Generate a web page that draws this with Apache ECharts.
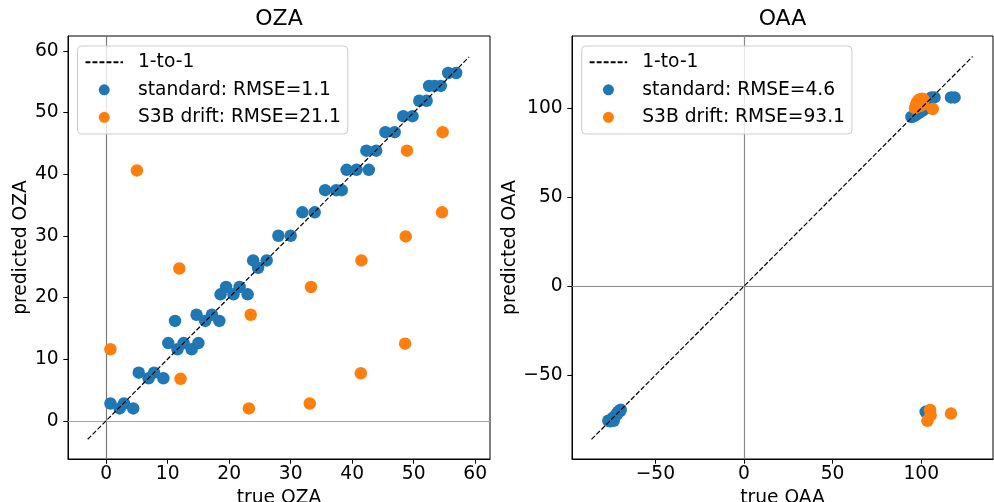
<!DOCTYPE html>
<html><head><meta charset="utf-8">
<script src="https://cdn.jsdelivr.net/npm/echarts@6/dist/echarts.min.js"></script>
<style>html,body{margin:0;padding:0;background:#fff}#c{width:994px;height:502px}</style>
</head><body><div id="c"></div>
<script>
// ---- data ----
const ozaTicks = [0, 10, 20, 30, 40, 50, 60];
const oaaTicks = [-50, 0, 50, 100];
const ozaRange = [-6.2, 62.4];
const oaaRange = [-97, 140.5];
const ozaOneToOne = [-3, 59];
const oaaOneToOne = [-86, 129];

const ozaStdTrue = [0.7,2.2,2.9,4.4, 5.3,6.9,7.8,9.3, 10.1,11.6,12.6,13.9,15.0, 11.2, 14.7,16.1,17.2,18.4, 18.6,19.5,20.7,21.7,23.0, 23.9,24.7,26.1, 28.0,30.0, 31.9,33.9, 35.6,37.4,38.3, 39.1,40.7,42.7, 42.3,43.9, 45.4,46.9, 48.3,49.8, 50.9,52.1, 52.5,53.4,54.4, 55.6,56.9];
const ozaStdPred = [2.8,2.0,2.8,2.0, 7.8,6.9,7.8,6.9, 12.6,11.6,12.6,11.6,12.6, 16.2, 17.2,16.2,17.2,16.2, 20.5,21.7,20.5,21.7,20.5, 26.0,24.8,26.0, 30.0,30.0, 33.8,33.8, 37.4,37.4,37.4, 40.7,40.7,40.7, 43.8,43.8, 46.8,46.8, 49.4,49.4, 51.9,51.9, 54.3,54.3,54.3, 56.4,56.4];
const ozaDriftTrue = [0.7, 5.0, 11.9, 12.1, 23.5, 23.2, 33.3, 33.1, 41.5, 41.4, 48.6, 48.7, 54.6, 48.9, 54.7];
const ozaDriftPred = [11.6, 40.6, 24.7, 6.8, 17.2, 2.0, 21.7, 2.8, 26.0, 7.7, 12.5, 29.9, 33.8, 43.8, 46.8];

const oaaStdTrue = [-76.5,-75.5,-74.5,-74,-73.5,-73,-72.5,-71.5,-71,-70,-69.5, 94.5,96,97.5,99,100.5,102,101,103,104, 105.8,107.5, 116.8,118.8, 102.5];
const oaaStdPred = [-75.5,-75.8,-75.2,-74,-75.5,-73.5,-72.5,-71.8,-70.5,-70.2,-69.3, 95,95.5,96.5,97.5,98.5,99.5,101,103,104, 106,106, 106,106, -70.5];
const oaaDriftTrue = [96.5,97,97.5,98.5,99.5,100.5,101.5,98,99,100,101,106.5, 105,105.3,103.5,116.8];
const oaaDriftPred = [100,101.5,103,104.5,105,105.2,104.8,102,101,103,102,99.5, -69.5,-72.5,-75.5,-71.5];

const names = {
  oza: ['1-to-1', 'standard: RMSE=1.1', 'S3B drift: RMSE=21.1'],
  oaa: ['1-to-1', 'standard: RMSE=4.6', 'S3B drift: RMSE=93.1']
};

// ---- chart ----
const F = 'DejaVu Sans';
const FS = 18.67;
const BLUE = '#1f77b4', ORANGE = '#ff7f0e';
const zip = (a, b) => a.map((v, i) => [v, b[i]]);
const fmt = v => String(v).replace('-', '\u2212');

function xAxis(gi, range, ticks, name) {
  return {
    type: 'value', gridIndex: gi, min: range[0], max: range[1],
    name: name, nameLocation: 'middle', nameGap: 17.5,
    nameTextStyle: {fontSize: FS, color: '#000', fontFamily: F},
    axisLine: {show: true, onZero: false, lineStyle: {color: '#000', width: 1}},
    axisTick: {show: true, customValues: ticks, length: 4.7, lineStyle: {color: '#000', width: 1}},
    axisLabel: {customValues: ticks, fontSize: FS, color: '#000', fontFamily: F, margin: 6, formatter: fmt},
    splitLine: {show: false}
  };
}
function yAxis(gi, range, ticks, name, gap) {
  return {
    type: 'value', gridIndex: gi, min: range[0], max: range[1],
    name: name, nameLocation: 'middle', nameGap: gap, nameRotate: 90,
    nameTextStyle: {fontSize: FS, color: '#000', fontFamily: F},
    axisLine: {show: true, onZero: false, lineStyle: {color: '#000', width: 1}},
    axisTick: {show: true, customValues: ticks, length: 4.7, lineStyle: {color: '#000', width: 1}},
    axisLabel: {customValues: ticks, fontSize: FS, color: '#000', fontFamily: F, margin: 9.3, formatter: fmt},
    splitLine: {show: false}
  };
}
function legend(left, data) {
  return {
    orient: 'vertical', left: left, top: 46,
    padding: [6.3, 7, 6.7, 7], itemGap: 7.5, itemWidth: 37.5, itemHeight: 11,
    backgroundColor: 'rgba(255,255,255,0.8)', borderColor: '#cccccc', borderWidth: 1, borderRadius: 4,
    textStyle: {fontSize: FS, color: '#000', fontFamily: F, lineHeight: 20, padding: [0, 0, 0, 10]},
    selectedMode: false,
    data: [
      {name: data[0], itemStyle: {color: 'rgba(0,0,0,0)', opacity: 0, borderWidth: 0}},
      data[1], data[2]
    ]
  };
}
function series(gi, oneToOne, stdT, stdP, drT, drP, nm, vColor, hColor) {
  return [
    {
      type: 'scatter', name: nm[1], xAxisIndex: gi, yAxisIndex: gi, z: 2,
      symbol: 'circle', symbolSize: 12.5, itemStyle: {color: BLUE, opacity: 1},
      data: zip(stdT, stdP),
      markLine: {
        silent: true, symbol: 'none', z: 1, animation: false,
        label: {show: false},
        data: [
          {xAxis: 0, lineStyle: {color: vColor, width: 1.2, type: 'solid'}},
          {yAxis: 0, lineStyle: {color: hColor, width: 1.2, type: 'solid'}}
        ]
      }
    },
    {
      type: 'scatter', name: nm[2], xAxisIndex: gi, yAxisIndex: gi, z: 2,
      symbol: 'circle', symbolSize: 12.5, itemStyle: {color: ORANGE, opacity: 1},
      data: zip(drT, drP)
    },
    {
      type: 'line', name: nm[0], xAxisIndex: gi, yAxisIndex: gi, z: 3,
      symbol: 'none', showSymbol: false,
      lineStyle: {color: '#000', width: 1.2, type: [4.9, 2.1]},
      itemStyle: {color: '#000'},
      data: zip(oneToOne, oneToOne)
    }
  ];
}

const chart = echarts.init(document.getElementById('c'), null, {renderer: 'canvas'});
chart.setOption({
  animation: false,
  backgroundColor: '#fff',
  textStyle: {fontFamily: F},
  grid: [
    {left: 68, top: 36, width: 422, height: 423, show: true, borderColor: '#000', borderWidth: 1, backgroundColor: 'transparent', containLabel: false, outerBoundsMode: 'none'},
    {left: 572, top: 36, width: 421, height: 423, show: true, borderColor: '#000', borderWidth: 1, backgroundColor: 'transparent', containLabel: false, outerBoundsMode: 'none'}
  ],
  xAxis: [xAxis(0, ozaRange, ozaTicks, 'true OZA'), xAxis(1, oaaRange, oaaTicks, 'true OAA')],
  yAxis: [yAxis(0, ozaRange, ozaTicks, 'predicted OZA', 34), yAxis(1, oaaRange, oaaTicks, 'predicted OAA', 49)],
  legend: [legend(77.5, names.oza), legend(581.7, names.oaa)],
  graphic: [
    {type: 'text', x: 279, y: 19, style: {text: 'OZA', fontSize: 22, fontFamily: F, fill: '#000', align: 'center', verticalAlign: 'middle'}},
    {type: 'text', x: 782.5, y: 19, style: {text: 'OAA', fontSize: 22, fontFamily: F, fill: '#000', align: 'center', verticalAlign: 'middle'}}
  ],
  series: [
    ...series(0, ozaOneToOne, ozaStdTrue, ozaStdPred, ozaDriftTrue, ozaDriftPred, names.oza, '#7a7a7a', '#a3a3a3'),
    ...series(1, oaaOneToOne, oaaStdTrue, oaaStdPred, oaaDriftTrue, oaaDriftPred, names.oaa, '#8a8a8a', '#8a8a8a')
  ]
});
</script>
</body></html>
